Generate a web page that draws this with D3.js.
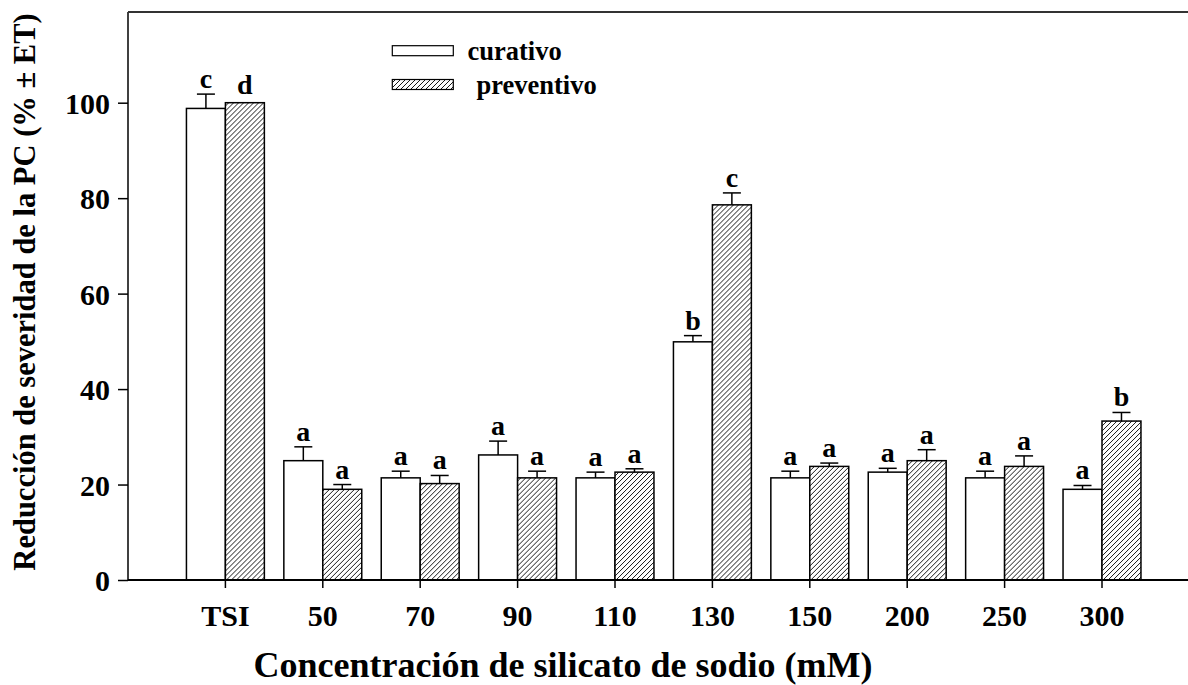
<!DOCTYPE html>
<html>
<head>
<meta charset="utf-8">
<script src="https://cdn.jsdelivr.net/npm/d3@7/dist/d3.min.js"></script>
<style>
  html, body { margin: 0; padding: 0; background: #fff; }
  svg { display: block; }
  text { font-family: "Liberation Serif", "Times New Roman", serif; font-weight: bold; fill: #000; }
</style>
</head>
<body>
<svg id="chart" width="1188" height="685"></svg>
<script>
// Silicate concentrations (mM) plus the untreated control
const categories = ["TSI", "50", "70", "90", "110", "130", "150", "200", "250", "300"];
const seriesNames = ["curativo", "preventivo"];

// Mean reduction of severity (%) and standard error
const curativo      = [98.8, 25.0, 21.4, 26.2, 21.4, 49.9, 21.4, 22.6, 21.4, 19.0];
const curativoErr   = [3.0, 2.9, 1.4, 2.9, 1.2, 1.3, 1.4, 0.8, 1.4, 0.8];
const preventivo    = [100.0, 19.0, 20.2, 21.4, 22.6, 78.6, 23.8, 25.0, 23.8, 33.3];
const preventivoErr = [0, 1.0, 1.7, 1.4, 0.7, 2.5, 0.7, 2.3, 2.2, 1.8];

// Significance letters (Tukey groups)
const curativoLetters   = ["c", "a", "a", "a", "a", "b", "a", "a", "a", "a"];
const preventivoLetters = ["d", "a", "a", "a", "a", "c", "a", "a", "a", "b"];

const yTicks = [0, 20, 40, 60, 80, 100];

const rows = categories.map((c, i) => ({
  cat: c,
  bars: [
    { key: "curativo", v: curativo[i], e: curativoErr[i], l: curativoLetters[i] },
    { key: "preventivo", v: preventivo[i], e: preventivoErr[i], l: preventivoLetters[i] }
  ]
}));

const svg = d3.select("#chart");

const plotLeft = 128, plotBottom = 580, plotTop = 12;
const y = d3.scaleLinear().domain([0, 100]).range([plotBottom, 102.7]);
const x = d3.scaleBand().domain(categories).range([176.7, 1150.7]).paddingInner(0.2).paddingOuter(0.1);
const xs = d3.scaleBand().domain(seriesNames).range([0, x.bandwidth()]);
const plotRight = plotLeft + x.step() * 11;

// Diagonal hatch for the preventive series
const defs = svg.append("defs");
const pat = defs.append("pattern")
  .attr("id", "hatch")
  .attr("patternUnits", "userSpaceOnUse")
  .attr("width", 5).attr("height", 5);
pat.append("rect").attr("width", 5).attr("height", 5).attr("fill", "#fff");
pat.append("path")
  .attr("d", "M0,5 L5,0 M-1,1 L1,-1 M4,6 L6,4")
  .attr("stroke", "#000").attr("stroke-width", 0.9);

const fillFor = k => k === "preventivo" ? "url(#hatch)" : "#fff";

// Bars
const groups = svg.append("g").selectAll("g").data(rows).join("g")
  .attr("transform", d => `translate(${x(d.cat)},0)`);

groups.selectAll("rect").data(d => d.bars).join("rect")
  .attr("x", b => xs(b.key))
  .attr("y", b => y(b.v))
  .attr("width", xs.bandwidth())
  .attr("height", b => plotBottom - y(b.v))
  .attr("fill", b => fillFor(b.key))
  .attr("stroke", "#000")
  .attr("stroke-width", 1.5);

// Error bars (upper half only)
const eb = groups.selectAll("g.err").data(d => d.bars.filter(b => b.e > 0)).join("g")
  .attr("class", "err")
  .attr("stroke", "#000").attr("stroke-width", 1.5);
eb.append("line")
  .attr("x1", b => xs(b.key) + xs.bandwidth() / 2)
  .attr("x2", b => xs(b.key) + xs.bandwidth() / 2)
  .attr("y1", b => y(b.v)).attr("y2", b => y(b.v + b.e));
eb.append("line")
  .attr("x1", b => xs(b.key) + xs.bandwidth() / 2 - 9)
  .attr("x2", b => xs(b.key) + xs.bandwidth() / 2 + 9)
  .attr("y1", b => y(b.v + b.e)).attr("y2", b => y(b.v + b.e));

// Letters
groups.selectAll("text.lt").data(d => d.bars).join("text")
  .attr("class", "lt")
  .attr("x", b => xs(b.key) + xs.bandwidth() / 2)
  .attr("y", b => y(b.v + b.e) - (b.e > 0 ? 6 : 9))
  .attr("text-anchor", "middle")
  .style("font-size", "28px")
  .text(b => b.l);

// Y axis
const yAxis = svg.append("g")
  .attr("transform", `translate(${plotLeft},0)`)
  .call(d3.axisLeft(y).tickValues(yTicks).tickSize(10).tickSizeOuter(0).tickPadding(8));
yAxis.select(".domain").remove();
yAxis.selectAll("line").attr("stroke", "#000").attr("stroke-width", 1.5);
yAxis.selectAll("text")
  .style("font-size", "30px")
  .style("font-family", "'Liberation Serif', serif")
  .style("font-weight", "bold")
  .attr("dy", "0.35em");

// X axis with ticks at group centres
const xAxis = svg.append("g")
  .attr("transform", `translate(0,${plotBottom})`)
  .call(d3.axisBottom(x).tickSize(8).tickSizeOuter(0).tickPadding(17));
xAxis.select(".domain").remove();
xAxis.selectAll("line").attr("stroke", "#000").attr("stroke-width", 1.5);
xAxis.selectAll("text")
  .style("font-size", "30px")
  .style("font-family", "'Liberation Serif', serif")
  .style("font-weight", "bold");

// Frame: left, bottom and top lines
svg.append("line").attr("x1", plotLeft).attr("x2", plotLeft).attr("y1", plotTop).attr("y2", plotBottom)
  .attr("stroke", "#000").attr("stroke-width", 1.5);
svg.append("line").attr("x1", plotLeft).attr("x2", plotRight).attr("y1", plotBottom).attr("y2", plotBottom)
  .attr("stroke", "#000").attr("stroke-width", 2);
svg.append("line").attr("x1", plotLeft).attr("x2", plotRight).attr("y1", plotTop).attr("y2", plotTop)
  .attr("stroke", "#333").attr("stroke-width", 2);

// Legend
const legend = svg.append("g");
const legendY = [45.7, 79.5];
seriesNames.forEach((k, i) => {
  legend.append("rect")
    .attr("x", 392.3).attr("y", legendY[i])
    .attr("width", 61).attr("height", 10)
    .attr("fill", fillFor(k)).attr("stroke", "#000").attr("stroke-width", 1.2);
  legend.append("text")
    .attr("x", i === 0 ? 467.5 : 476.5).attr("y", legendY[i] + 14)
    .style("font-size", "26.5px")
    .text(k);
});

// Axis titles
svg.append("text")
  .attr("x", 563).attr("y", 677)
  .attr("text-anchor", "middle")
  .style("font-size", "36px")
  .text("Concentración de silicato de sodio (mM)");

svg.append("text")
  .attr("transform", "translate(35,292) rotate(-90)")
  .attr("text-anchor", "middle")
  .style("font-size", "30.5px")
  .text("Reducción de severidad de la PC (% ± ET)");
</script>
</body>
</html>
